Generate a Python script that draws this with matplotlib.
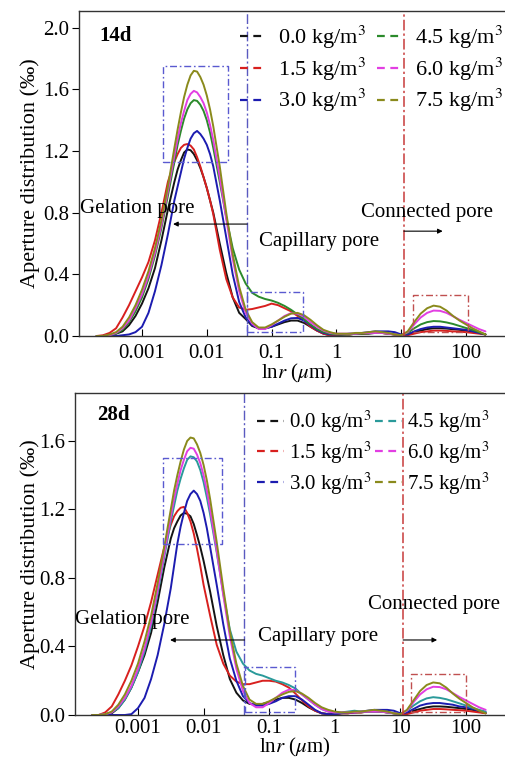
import numpy as np
import matplotlib
matplotlib.use('Agg')
import matplotlib.pyplot as plt
from matplotlib.lines import Line2D
from matplotlib.ticker import FixedLocator, FixedFormatter, NullLocator

plt.rcParams['font.family'] = ['Liberation Serif', 'DejaVu Serif']
plt.rcParams['mathtext.fontset'] = 'stix'

# sampling positions, log10 of pore radius (um), read every 0.1 decade
log_r = np.round(np.arange(-3.7, 2.31, 0.1), 1)
# extra half-step readings around the main peak
log_r_peak = [-2.45, -2.35, -2.25, -2.15, -2.05, -1.95]

dosages = ['0.0', '1.5', '3.0', '4.5', '6.0', '7.5']
labels = [d + ' kg/m$^3$' for d in dosages]

# 14 d curves
d14_00 = [0, 0, 0.005, 0.015, 0.03, 0.07, 0.13, 0.21, 0.31, 0.44, 0.62, 0.82, 1.0, 1.14, 1.21, 1.18, 1.09, 0.96, 0.8, 0.6,
          0.41, 0.25, 0.15, 0.11, 0.065, 0.05, 0.05, 0.06, 0.075, 0.09, 0.1, 0.1, 0.085, 0.06, 0.035, 0.015, 0.005, 0.005,
          0.01, 0.01, 0.015, 0.015, 0.015, 0.02, 0.02, 0.015, 0.01, 0.005,
          0.01, 0.025, 0.035, 0.045, 0.05, 0.05, 0.048, 0.044, 0.04, 0.035, 0.03, 0.02, 0.01]
d14_15 = [0, 0.005, 0.02, 0.05, 0.12, 0.2, 0.29, 0.38, 0.48, 0.62, 0.8, 1.0, 1.13, 1.22, 1.245, 1.21, 1.1, 0.96, 0.79, 0.56,
          0.37, 0.25, 0.185, 0.17, 0.175, 0.185, 0.195, 0.21, 0.2, 0.18, 0.16, 0.13, 0.1, 0.06, 0.035, 0.015, 0.005, 0.005,
          0.01, 0.01, 0.015, 0.015, 0.02, 0.02, 0.02, 0.015, 0.01, 0.005,
          0.005, 0.015, 0.025, 0.03, 0.035, 0.035, 0.033, 0.03, 0.028, 0.025, 0.02, 0.015, 0.01]
d14_30 = [0, 0, 0, 0, 0.005, 0.01, 0.025, 0.06, 0.15, 0.29, 0.46, 0.66, 0.88, 1.06, 1.22, 1.315, 1.31, 1.24, 1.1, 0.88,
          0.64, 0.4, 0.22, 0.12, 0.07, 0.05, 0.05, 0.06, 0.08, 0.1, 0.115, 0.117, 0.1, 0.07, 0.04, 0.02, 0.01, 0.01,
          0.01, 0.015, 0.015, 0.02, 0.025, 0.03, 0.03, 0.03, 0.025, 0.01,
          0.01, 0.03, 0.045, 0.055, 0.06, 0.06, 0.055, 0.05, 0.045, 0.04, 0.03, 0.02, 0.01]
d14_45 = [0, 0, 0.005, 0.015, 0.04, 0.09, 0.16, 0.25, 0.37, 0.52, 0.7, 0.91, 1.13, 1.33, 1.47, 1.53, 1.5, 1.4, 1.22, 1.0,
          0.77, 0.57, 0.43, 0.34, 0.28, 0.255, 0.24, 0.23, 0.215, 0.195, 0.17, 0.14, 0.11, 0.075, 0.045, 0.025, 0.015, 0.01,
          0.01, 0.01, 0.015, 0.015, 0.02, 0.02, 0.02, 0.015, 0.01, 0.005,
          0.02, 0.05, 0.075, 0.09, 0.097, 0.095, 0.088, 0.078, 0.065, 0.052, 0.04, 0.025, 0.01]
d14_60 = [0, 0, 0.005, 0.02, 0.05, 0.1, 0.18, 0.27, 0.39, 0.54, 0.72, 0.94, 1.17, 1.38, 1.53, 1.59, 1.55, 1.45, 1.27, 1.03,
          0.76, 0.5, 0.29, 0.15, 0.08, 0.045, 0.045, 0.07, 0.1, 0.13, 0.148, 0.145, 0.125, 0.09, 0.06, 0.035, 0.02, 0.015,
          0.015, 0.015, 0.015, 0.02, 0.02, 0.02, 0.02, 0.015, 0.01, 0.005,
          0.025, 0.075, 0.12, 0.15, 0.165, 0.163, 0.15, 0.128, 0.105, 0.085, 0.065, 0.045, 0.03]
d14_75 = [0, 0, 0.01, 0.025, 0.06, 0.12, 0.2, 0.3, 0.42, 0.57, 0.75, 0.97, 1.22, 1.45, 1.63, 1.72, 1.68, 1.56, 1.36, 1.1,
          0.8, 0.53, 0.32, 0.17, 0.09, 0.055, 0.055, 0.075, 0.1, 0.125, 0.145, 0.15, 0.135, 0.105, 0.07, 0.04, 0.025, 0.015,
          0.015, 0.015, 0.02, 0.02, 0.025, 0.03, 0.025, 0.02, 0.01, 0.005,
          0.03, 0.09, 0.145, 0.18, 0.197, 0.19, 0.165, 0.13, 0.1, 0.075, 0.05, 0.03, 0.01]
d14_peak = [[1.08, 1.19, 1.205, 1.14, 1.03, 0.88],
            [1.18, 1.24, 1.235, 1.16, 1.03, 0.88],
            [0.97, 1.15, 1.28, 1.33, 1.28, 1.18],
            [1.24, 1.41, 1.51, 1.525, 1.46, 1.32],
            [1.28, 1.46, 1.57, 1.58, 1.51, 1.37],
            [1.34, 1.55, 1.69, 1.715, 1.63, 1.47]]

# 28 d curves
d28_00 = [0, 0, 0, 0.01, 0.04, 0.09, 0.16, 0.25, 0.35, 0.48, 0.66, 0.86, 1.03, 1.13, 1.18, 1.16, 1.05, 0.9, 0.72, 0.52,
          0.35, 0.21, 0.13, 0.085, 0.065, 0.06, 0.065, 0.075, 0.09, 0.1, 0.1, 0.09, 0.07, 0.045, 0.025, 0.01, 0.005, 0.005,
          0.01, 0.01, 0.015, 0.015, 0.02, 0.02, 0.02, 0.015, 0.01, 0.005,
          0.01, 0.025, 0.035, 0.045, 0.05, 0.05, 0.048, 0.044, 0.04, 0.035, 0.03, 0.02, 0.01]
d28_15 = [0, 0, 0.015, 0.05, 0.12, 0.2, 0.29, 0.4, 0.52, 0.66, 0.82, 0.98, 1.11, 1.19, 1.215, 1.13, 0.97, 0.76, 0.58, 0.41,
          0.3, 0.23, 0.195, 0.18, 0.18, 0.19, 0.2, 0.2, 0.195, 0.18, 0.16, 0.125, 0.085, 0.05, 0.025, 0.01, 0.005, 0.005,
          0.01, 0.01, 0.015, 0.015, 0.02, 0.02, 0.02, 0.015, 0.01, 0.005,
          0.005, 0.015, 0.025, 0.03, 0.035, 0.035, 0.033, 0.03, 0.028, 0.025, 0.02, 0.015, 0.01]
d28_30 = [0, 0, 0, 0, 0, 0, 0.005, 0.04, 0.1, 0.21, 0.35, 0.53, 0.74, 1.0, 1.18, 1.29, 1.29, 1.18, 0.98, 0.76,
          0.53, 0.33, 0.2, 0.11, 0.07, 0.055, 0.055, 0.065, 0.08, 0.1, 0.11, 0.11, 0.09, 0.06, 0.03, 0.01, 0.005, 0.005,
          0.01, 0.015, 0.015, 0.02, 0.025, 0.03, 0.03, 0.03, 0.025, 0.01,
          0.015, 0.035, 0.055, 0.065, 0.07, 0.07, 0.065, 0.06, 0.05, 0.045, 0.035, 0.025, 0.015]
d28_45 = [0, 0, 0.005, 0.015, 0.04, 0.09, 0.16, 0.25, 0.37, 0.52, 0.71, 0.92, 1.13, 1.31, 1.44, 1.51, 1.48, 1.36, 1.17, 0.95,
          0.71, 0.5, 0.37, 0.3, 0.26, 0.24, 0.23, 0.215, 0.2, 0.19, 0.175, 0.155, 0.12, 0.09, 0.06, 0.035, 0.02, 0.015,
          0.015, 0.02, 0.025, 0.02, 0.02, 0.02, 0.02, 0.015, 0.01, 0.005,
          0.025, 0.055, 0.08, 0.097, 0.104, 0.1, 0.092, 0.08, 0.068, 0.055, 0.042, 0.03, 0.02]
d28_60 = [0, 0, 0.005, 0.015, 0.05, 0.1, 0.17, 0.27, 0.39, 0.54, 0.73, 0.94, 1.16, 1.35, 1.49, 1.56, 1.52, 1.4, 1.2, 0.96,
          0.7, 0.46, 0.27, 0.14, 0.07, 0.045, 0.045, 0.07, 0.1, 0.13, 0.148, 0.145, 0.12, 0.09, 0.06, 0.035, 0.02, 0.015,
          0.015, 0.015, 0.015, 0.02, 0.02, 0.02, 0.02, 0.015, 0.01, 0.005,
          0.025, 0.075, 0.12, 0.15, 0.165, 0.163, 0.15, 0.128, 0.105, 0.085, 0.065, 0.045, 0.03]
d28_75 = [0, 0, 0.005, 0.02, 0.06, 0.12, 0.2, 0.3, 0.43, 0.58, 0.77, 0.98, 1.2, 1.4, 1.55, 1.62, 1.58, 1.46, 1.26, 1.01,
          0.74, 0.49, 0.3, 0.17, 0.09, 0.065, 0.065, 0.08, 0.1, 0.12, 0.135, 0.14, 0.125, 0.1, 0.07, 0.045, 0.03, 0.02,
          0.015, 0.015, 0.02, 0.02, 0.025, 0.03, 0.025, 0.02, 0.01, 0.005,
          0.03, 0.085, 0.14, 0.175, 0.19, 0.185, 0.16, 0.125, 0.095, 0.07, 0.045, 0.025, 0.01]
d28_peak = [[1.09, 1.165, 1.175, 1.115, 0.98, 0.81],
            [1.16, 1.21, 1.18, 1.06, 0.87, 0.67],
            [0.87, 1.1, 1.25, 1.31, 1.25, 1.09],
            [1.22, 1.38, 1.49, 1.505, 1.43, 1.27],
            [1.26, 1.43, 1.54, 1.555, 1.47, 1.31],
            [1.31, 1.48, 1.6, 1.615, 1.53, 1.37]]

colors_14 = ['#141414', '#d8201e', '#1c1cb0', '#2b8a2b', '#e23ee2', '#8a8a1c']
colors_28 = ['#141414', '#d8201e', '#1c1cb0', '#2a9a9a', '#e23ee2', '#8a8a1c']

xtick_vals = [0.001, 0.01, 0.1, 1, 10, 100]
xtick_labels = ['0.001', '0.01', '0.1', '1', '10', '100']

# pore class boundaries (um) and highlight boxes (x0, x1, y0, y1)
gel_cap = 0.042
cap_con = 11.0
boxes_14 = [(0.0021, 0.021, 1.13, 1.75), (0.042, 0.30, 0.025, 0.285), (15.3, 107, 0.025, 0.265)]
boxes_28 = [(0.0024, 0.019, 1.0, 1.5), (0.043, 0.25, 0.02, 0.28), (14.7, 100, 0.02, 0.24)]

FS = 15
W, H = 505, 761


def merge(grid_vals, peak_vals):
	lx = np.concatenate([log_r, log_r_peak])
	y = np.concatenate([grid_vals, peak_vals])
	order = np.argsort(lx)
	return 10 ** lx[order], y[order]


def draw_panel(ax, series, peaks, colors, boxes, tag, ylim, xlim, yticks, txt, leg_xy, leg_kw, xpad, xlpad, ylx):
	for y, yp, c in zip(series, peaks, colors):
		x, yy = merge(y, yp)
		ax.plot(x, yy, color=c, lw=1.4, solid_capstyle='round', solid_joinstyle='round')
	ax.set_xscale('log')
	ax.set_xlim(*xlim)
	ax.set_ylim(*ylim)
	ax.xaxis.set_major_locator(FixedLocator(xtick_vals))
	ax.xaxis.set_major_formatter(FixedFormatter(xtick_labels))
	ax.xaxis.set_minor_locator(NullLocator())
	ax.set_yticks(yticks)
	ax.set_yticklabels(['%.1f' % v for v in yticks])
	ax.tick_params(axis='x', direction='in', length=5, pad=xpad, labelsize=FS, width=0.8)
	ax.tick_params(axis='y', direction='out', length=5, pad=2, labelsize=FS, width=0.8)
	ax.spines['right'].set_visible(False)
	for s in ['left', 'bottom', 'top']:
		ax.spines[s].set_linewidth(1.0)
		ax.spines[s].set_color('#333333')
	ax.set_xlabel(r'ln$r$ ($\mu$m)', fontsize=FS, labelpad=xlpad)
	ax.set_ylabel('Aperture distribution (‰)', fontsize=16)
	ax.yaxis.set_label_coords(ylx, 0.5)

	ax.axvline(gel_cap, color='#5a5ac0', lw=1.0, ls=(0, (7, 2, 1.5, 2)))
	ax.axvline(cap_con, color='#c83a3a', lw=1.1, ls=(0, (7, 2, 1.5, 2)))
	for i, (x0, x1, y0, y1) in enumerate(boxes):
		bc = '#c05050' if i == 2 else '#5a5ad0'
		ax.plot([x0, x1, x1, x0, x0], [y0, y0, y1, y1, y0], color=bc, lw=1.0, ls=(0, (5, 2, 1.2, 2)))

	ax.text(txt['tag'][0], txt['tag'][1], tag, fontsize=FS, fontweight='bold', va='center')
	ax.text(txt['gel'][0], txt['gel'][1], 'Gelation pore', fontsize=FS, va='center')
	ax.text(txt['cap'][0], txt['cap'][1], 'Capillary pore', fontsize=FS, va='center')
	ax.text(txt['con'][0], txt['con'][1], 'Connected pore', fontsize=FS, va='center')
	ap = dict(arrowstyle='-|>', color='black', lw=0.8, mutation_scale=7, shrinkA=0, shrinkB=0)
	ax.annotate('', xy=(txt['la'][1], txt['la'][2]), xytext=(txt['la'][0], txt['la'][2]), arrowprops=ap)
	ax.annotate('', xy=(txt['ra'][1], txt['ra'][2]), xytext=(txt['ra'][0], txt['ra'][2]), arrowprops=ap)

	handles = [Line2D([], [], color=c, lw=1.6, ls=(0, (3.5, 2.5))) for c in colors]
	ax.legend(handles, labels, loc='upper left', bbox_to_anchor=(leg_xy[0] / W, 1 - leg_xy[1] / H),
			  bbox_transform=fig.transFigure, ncol=2, frameon=False,
			  borderpad=0, borderaxespad=0, **leg_kw)


fig = plt.figure(figsize=(W / 100, H / 100), dpi=100)
ax1 = fig.add_axes([79 / W, 1 - 336 / H, 436 / W, 325 / H])
ax2 = fig.add_axes([75 / W, 1 - 715 / H, 440 / W, 322 / H])

txt14 = {'tag': (10 ** -3.65, 1.945), 'gel': (10 ** -3.955, 0.83), 'cap': (10 ** -1.19, 0.616),
		 'con': (10 ** 0.38, 0.80), 'la': (gel_cap, 10 ** -2.52, 0.726), 'ra': (cap_con, 10 ** 1.64, 0.68)}
txt28 = {'tag': (10 ** -3.625, 1.75), 'gel': (10 ** -3.96, 0.56), 'cap': (10 ** -1.17, 0.456),
		 'con': (10 ** 0.506, 0.643), 'la': (gel_cap, 10 ** -2.51, 0.438), 'ra': (cap_con, 10 ** 1.56, 0.438)}

draw_panel(ax1, [d14_00, d14_15, d14_30, d14_45, d14_60, d14_75], d14_peak, colors_14, boxes_14, '14d',
		   (0, 2.108), (10 ** -3.972, 10 ** 2.756), [0.0, 0.4, 0.8, 1.2, 1.6, 2.0], txt14, (240, 24),
		   dict(fontsize=16, handlelength=1.15, handletextpad=0.55, columnspacing=0.5, labelspacing=0.2),
		   6, -1, -0.09)
draw_panel(ax2, [d28_00, d28_15, d28_30, d28_45, d28_60, d28_75], d28_peak, colors_28, boxes_28, '28d',
		   (0, 1.88), (10 ** -3.96, 10 ** 2.747), [0.0, 0.4, 0.8, 1.2, 1.6], txt28, (257, 409),
		   dict(fontsize=15, handlelength=1.3, handletextpad=0.25, columnspacing=0.15, labelspacing=0.2),
		   3, -1.5, -0.08)

fig.savefig('out.png', dpi=100)
